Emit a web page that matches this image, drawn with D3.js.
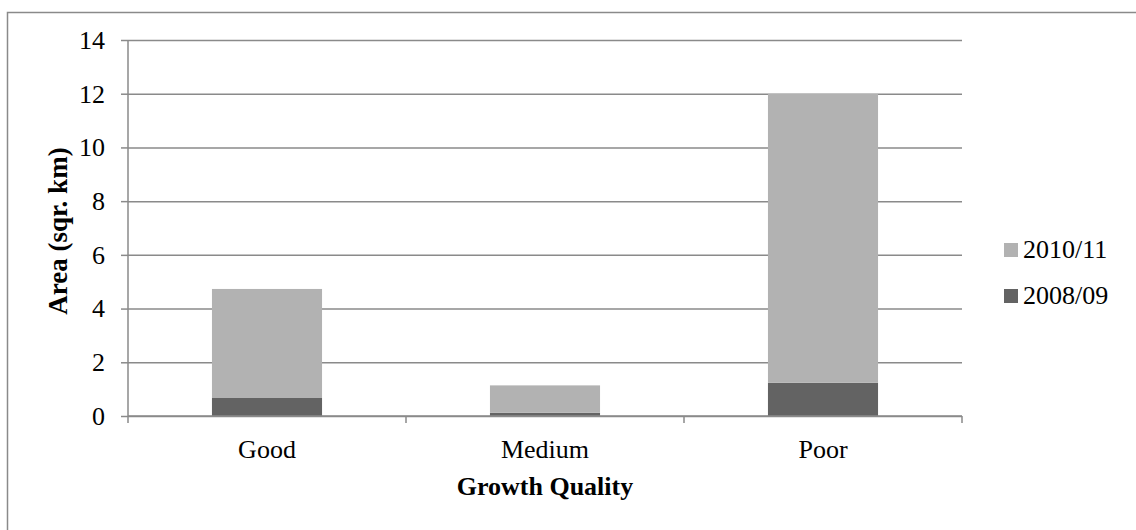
<!DOCTYPE html>
<html>
<head>
<meta charset="utf-8">
<script src="https://cdn.jsdelivr.net/npm/d3@7"></script>
<style>
  html, body { margin: 0; padding: 0; background: #fff; }
  svg { display: block; }
  text { font-family: "Liberation Serif", serif; }
</style>
</head>
<body>
<svg id="chart" width="1136" height="530"></svg>
<script>
// Stacked area by growth quality, one segment per survey period
const categories = ["Good", "Medium", "Poor"];
const seriesNames = ["2008/09", "2010/11"];
const values0809 = [0.67, 0.12, 1.24];
const values1011 = [4.06, 1.02, 10.75];
const yTicks = [0, 2, 4, 6, 8, 10, 12, 14];
const colors = { "2008/09": "#636363", "2010/11": "#b2b2b2" };

const FONT = "Liberation Serif";
const svg = d3.select("#chart");
const margin = { left: 128, right: 174, top: 40, bottom: 114 };
const width = 1136, height = 530;
const x0 = margin.left, x1 = width - margin.right;
const y0 = height - margin.bottom, y1 = margin.top;

const gridColor = "#8a8a8a";

// outer chart frame
svg.append("rect")
  .attr("x", 7.5).attr("y", 12.5)
  .attr("width", 1140).attr("height", 540)
  .attr("fill", "none").attr("stroke", gridColor).attr("stroke-width", 1.5);

const x = d3.scaleBand().domain(categories).range([x0, x1]).padding(0);
const y = d3.scaleLinear().domain([0, 14]).range([y0, y1]);

const rows = categories.map((c, i) => ({ cat: c, "2008/09": values0809[i], "2010/11": values1011[i] }));
const stacked = d3.stack().keys(seriesNames)(rows);

// horizontal gridlines with left tick marks
const yAxis = d3.axisLeft(y).tickValues(yTicks).tickSize(7).tickPadding(16).tickFormat(d3.format("d"));
const gy = svg.append("g").attr("transform", `translate(${x0},0)`).call(yAxis)
  .attr("font-family", FONT).attr("font-size", 26);
gy.select(".domain").attr("stroke", gridColor).attr("stroke-width", 1.5).attr("d", `M0,${y0}V${y1}`);
gy.selectAll(".tick line").attr("stroke", gridColor).attr("stroke-width", 1.5);
gy.selectAll(".tick text").attr("fill", "#000");
gy.selectAll(".tick").append("line")
  .attr("x1", 0).attr("x2", x1 - x0)
  .attr("stroke", gridColor).attr("stroke-width", 1.5);

// bars
const barFrac = 0.396;
const bw = x.bandwidth() * barFrac;
svg.append("g").selectAll("g").data(stacked).join("g")
  .attr("fill", d => colors[d.key])
  .selectAll("rect").data(d => d).join("rect")
  .attr("x", d => x(d.data.cat) + (x.bandwidth() - bw) / 2)
  .attr("width", bw)
  .attr("y", d => y(d[1]))
  .attr("height", d => y(d[0]) - y(d[1]));

// category axis: ticks at band boundaries
const gx = svg.append("g").attr("transform", `translate(0,${y0})`);
gx.append("line").attr("x1", x0).attr("x2", x1).attr("stroke", gridColor).attr("stroke-width", 1.5);
const bounds = categories.map(c => x(c)).concat([x1]);
gx.selectAll("line.tk").data(bounds).join("line").attr("class", "tk")
  .attr("x1", d => d).attr("x2", d => d).attr("y1", 0).attr("y2", 7)
  .attr("stroke", gridColor).attr("stroke-width", 1.5);
gx.selectAll("text").data(categories).join("text")
  .attr("x", d => x(d) + x.bandwidth() / 2).attr("y", 42)
  .attr("text-anchor", "middle").attr("font-family", FONT).attr("font-size", 26).attr("fill", "#000")
  .text(d => d);

// axis titles
svg.append("text")
  .attr("x", (x0 + x1) / 2).attr("y", 495)
  .attr("text-anchor", "middle").attr("font-family", FONT).attr("font-size", 26).attr("font-weight", "bold")
  .text("Growth Quality");
svg.append("text")
  .attr("transform", `translate(67,231) rotate(-90)`)
  .attr("text-anchor", "middle").attr("font-family", FONT).attr("font-size", 27).attr("font-weight", "bold")
  .text("Area (sqr. km)");

// legend, top entry is the upper stack segment
const legendItems = seriesNames.slice().reverse();
const lg = svg.append("g").selectAll("g").data(legendItems).join("g")
  .attr("transform", (d, i) => `translate(1004,${243 + i * 46})`);
lg.append("rect").attr("width", 14).attr("height", 14).attr("fill", d => colors[d]);
lg.append("text").attr("x", 19).attr("y", 15)
  .attr("font-family", FONT).attr("font-size", 26).attr("fill", "#000").text(d => d);
</script>
</body>
</html>
